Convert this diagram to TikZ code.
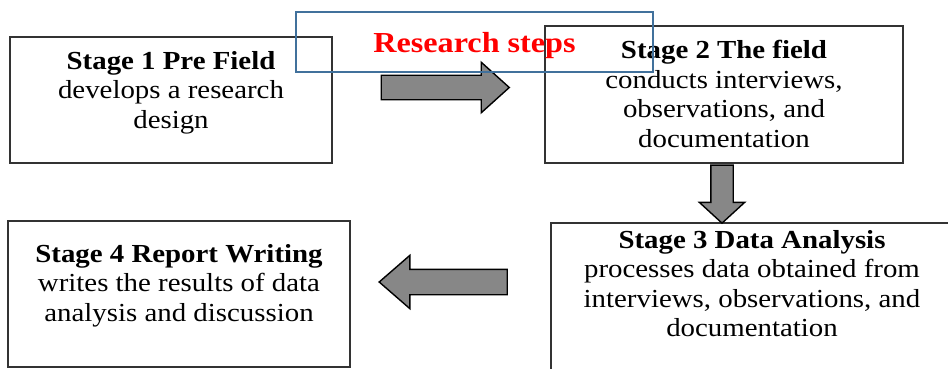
\documentclass[tikz,border=0pt]{standalone}
\usepackage{fontspec}
\setmainfont{Liberation Serif}[FakeStretch=1.11]
\usetikzlibrary{shapes.arrows}

\definecolor{titleblue}{RGB}{65,113,156}

\begin{document}
\begin{tikzpicture}[
    x=1pt, y=-1pt,
    frame/.style={draw=black!80, line width=1.5pt, minimum width=#1, inner sep=0pt},
    stagetxt/.style={align=center, anchor=north, inner sep=0pt, font=\fontsize{26}{29.5}\selectfont},
    blockarr/.style={single arrow, draw=black, line width=1.4pt, fill=black!47, inner xsep=0pt, minimum height=128pt},
    ttl/.style={draw=titleblue, line width=1.6pt, text=red, inner sep=0pt, text depth=0pt, font=\fontsize{29}{32}\selectfont\bfseries}
]
\useasboundingbox (0,0) rectangle (948,369);

% stage boxes
\node[frame=322pt, minimum height=126pt] (s1) at (171,100) {};
\node[frame=358pt, minimum height=137pt] (s2) at (724,94.5) {};
\node[frame=402pt, minimum height=180pt] (s3) at (752,313) {};
\node[frame=342pt, minimum height=146pt] (s4) at (179,294) {};

\node[stagetxt] (t1) at (171,51) {\textbf{Stage 1 Pre Field}\\develops a research\\design};
\node[stagetxt] (t2) at (724,40) {\textbf{Stage 2 The field}\\conducts interviews,\\observations, and\\documentation};
\node[stagetxt] (t3) at (752,230) {\textbf{Stage 3 Data Analysis}\\processes data obtained from\\interviews, observations, and\\documentation};
\node[stagetxt] (t4) at (179,244) {\textbf{Stage 4 Report Writing}\\writes the results of data\\analysis and discussion};

% arrows between stages
\node[blockarr, inner ysep=11.5pt, single arrow head extend=13pt, single arrow tip angle=84] (a12) at (438.5,87.5) {};
\node[blockarr, minimum height=58pt, inner ysep=10.5pt, single arrow head extend=11.5pt, single arrow tip angle=95, rotate=-90] (a23) at (722,189) {};
\node[blockarr, inner ysep=12pt, single arrow head extend=14pt, single arrow tip angle=82, rotate=180] (a34) at (450.5,282) {};

% title
\node[ttl, minimum width=357pt, minimum height=60pt] (title) at (474.5,42) {Research steps};
\end{tikzpicture}
\end{document}
